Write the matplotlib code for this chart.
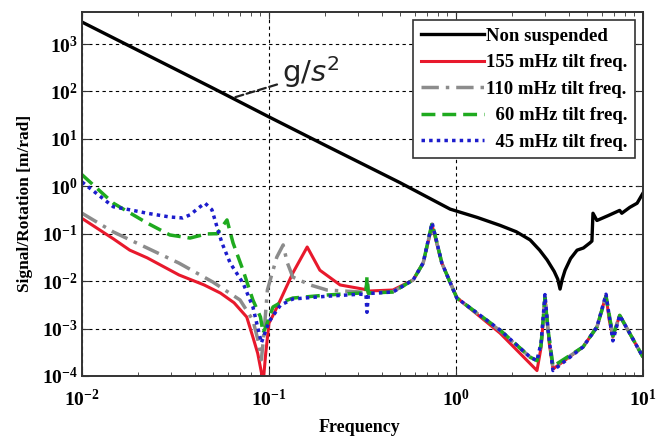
import math
import matplotlib
matplotlib.use('Agg')
import matplotlib.pyplot as plt
from matplotlib.ticker import FuncFormatter, LogLocator, NullLocator

plt.rcParams['font.family'] = ['Liberation Serif', 'DejaVu Serif']
plt.rcParams['mathtext.fontset'] = 'custom'
plt.rcParams['mathtext.rm'] = 'Liberation Serif:bold'
plt.rcParams['mathtext.bf'] = 'Liberation Serif:bold'
plt.rcParams['mathtext.it'] = 'Liberation Serif:italic:bold'

# Non suspended
f_black = [0.01, 0.02, 0.05, 0.1, 0.2, 0.5, 0.93, 1.3, 1.72, 2.1, 2.49, 2.8, 3.07,
           3.35, 3.5, 3.6, 3.7, 3.83, 4.1, 4.44, 4.8, 5.2, 5.33, 5.4, 5.67, 6.5,
           7.5, 7.7, 8.5, 9.3, 10]
v_black = [2900, 730, 118, 29, 7.3, 1.2, 0.33, 0.22, 0.15, 0.11, 0.074, 0.045, 0.028,
           0.016, 0.011, 0.0068, 0.011, 0.017, 0.03, 0.045, 0.05, 0.064, 0.07, 0.27, 0.19,
           0.24, 0.31, 0.27, 0.36, 0.44, 0.72]

# 155 mHz
f_red = [0.01, 0.0147, 0.018, 0.0223, 0.033, 0.045, 0.055, 0.065, 0.076, 0.082, 0.087,
         0.091, 0.093, 0.096, 0.1, 0.107, 0.115, 0.134, 0.16, 0.187, 0.24, 0.318, 0.327,
         0.332, 0.337, 0.345, 0.46, 0.59, 0.667, 0.745, 0.84, 1.01, 1.72, 2.71, 2.85,
         2.99, 3.15, 3.3, 4.78, 5.67, 6.34, 6.6, 6.9, 7.5, 10]
v_red = [0.21, 0.078, 0.045, 0.031, 0.0135, 0.0083, 0.0056, 0.0035, 0.00175, 0.00066,
         0.0003, 0.00012, 0.00007, 0.0003, 0.0013, 0.0022, 0.004, 0.0148, 0.0525, 0.017,
         0.0083, 0.0068, 0.0066, 0.0078, 0.006, 0.0062, 0.0065, 0.0106, 0.024, 0.15,
         0.024, 0.0045, 0.0008, 0.00013, 0.0004, 0.0046, 0.0005, 0.00014, 0.00041,
         0.00108, 0.005, 0.0015, 0.00066, 0.0019, 0.00025]

# 110 mHz
f_gray = [0.01, 0.0147, 0.0223, 0.033, 0.05, 0.07, 0.082, 0.088, 0.091, 0.094, 0.098,
          0.11, 0.119, 0.125, 0.134, 0.166, 0.204, 0.307, 0.33, 0.334, 0.34, 0.46, 0.59,
          0.667, 0.745, 0.84, 1.01, 1.72, 2.49, 2.71, 2.85, 2.99, 3.1, 3.3, 4.78, 5.67,
          6.34, 6.9, 7.5, 10]
v_gray = [0.27, 0.109, 0.05, 0.024, 0.0096, 0.004, 0.0015, 0.0005, 0.00022, 0.0008,
          0.0065, 0.032, 0.058, 0.025, 0.0122, 0.0083, 0.0065, 0.0059, 0.0058, 0.011,
          0.0056, 0.006, 0.0106, 0.024, 0.16, 0.024, 0.0044, 0.0009, 0.00025, 0.00021,
          0.00045, 0.0045, 0.001, 0.00015, 0.00041, 0.00108, 0.0048, 0.0007, 0.0019,
          0.00025]

# 60 mHz
f_green = [0.01, 0.0147, 0.0223, 0.0295, 0.0378, 0.042, 0.0466, 0.0527, 0.0596, 0.0642,
           0.0726, 0.082, 0.09, 0.093, 0.097, 0.105, 0.115, 0.134, 0.204, 0.307, 0.33,
           0.334, 0.34, 0.345, 0.46, 0.59, 0.667, 0.745, 0.84, 1.01, 1.72, 2.49, 2.71,
           2.85, 2.99, 3.1, 3.3, 4.78, 5.67, 6.34, 6.9, 7.5, 10]
v_green = [1.75, 0.44, 0.168, 0.094, 0.081, 0.09, 0.099, 0.1, 0.195, 0.064, 0.017, 0.004,
           0.00175, 0.0008, 0.0012, 0.00285, 0.0035, 0.0044, 0.0051, 0.0056, 0.0055,
           0.0122, 0.0055, 0.0056, 0.0059, 0.0106, 0.024, 0.168, 0.024, 0.0044, 0.00093,
           0.00025, 0.00021, 0.00045, 0.0045, 0.001, 0.00016, 0.00041, 0.00108, 0.0048,
           0.0007, 0.0019, 0.00025]

# 45 mHz
f_blue = [0.01, 0.0147, 0.018, 0.0223, 0.0295, 0.0346, 0.0378, 0.0428, 0.0455, 0.0495,
          0.0527, 0.056, 0.062, 0.0726, 0.082, 0.091, 0.095, 0.1, 0.115, 0.134, 0.204,
          0.307, 0.33, 0.334, 0.34, 0.345, 0.46, 0.59, 0.667, 0.745, 0.84, 1.01, 1.72,
          2.49, 2.71, 2.85, 2.99, 3.1, 3.3, 4.78, 5.67, 6.34, 6.9, 7.5, 10]
v_blue = [1.23, 0.37, 0.32, 0.27, 0.225, 0.215, 0.25, 0.37, 0.44, 0.32, 0.139, 0.064,
          0.024, 0.0091, 0.00285, 0.0005, 0.0008, 0.0014, 0.0031, 0.0042, 0.0048, 0.0053,
          0.0052, 0.0022, 0.0053, 0.0055, 0.0059, 0.0106, 0.024, 0.17, 0.024, 0.0044,
          0.00093, 0.00025, 0.00021, 0.0005, 0.0052, 0.001, 0.00013, 0.00041, 0.00108,
          0.0053, 0.00055, 0.0019, 0.00025]

labels = ['Non suspended', '155 mHz tilt freq.', '110 mHz tilt freq.',
          '  60 mHz tilt freq.', '  45 mHz tilt freq.']

fig = plt.figure(figsize=(6.68, 4.38), dpi=100)
ax = fig.add_axes([0.1228, 0.1416, 0.8398, 0.831])

ax.loglog(f_black, v_black, color='black', lw=2.4, label=labels[0])
ax.loglog(f_red, v_red, color='#e8192c', lw=2.2, label=labels[1])
ax.loglog(f_gray, v_gray, color='#8c8c8c', lw=2.5, ls=(0, (5, 2, 1, 2)), label=labels[2])
ax.loglog(f_green, v_green, color='#1faa1f', lw=2.5, ls=(0, (4, 2)), label=labels[3])
ax.loglog(f_blue, v_blue, color='#1c1ccc', lw=2.5, ls=(0, (1, 1.2)), label=labels[4])

ax.set_xlim(1e-2, 1e1)
ax.set_ylim(1e-4, 10 ** 3.675)

fmt = FuncFormatter(lambda v, p: r'$\mathbf{10^{%d}}$' % round(math.log10(v)))
ax.xaxis.set_major_formatter(fmt)
ax.yaxis.set_major_formatter(fmt)
ax.xaxis.set_minor_locator(LogLocator(base=10, subs=range(2, 10)))
ax.yaxis.set_major_locator(LogLocator(base=10, numticks=20))
ax.yaxis.set_minor_locator(NullLocator())
ax.tick_params(which='both', direction='in', top=True, right=True, labelsize=14,
               color='#333333')
ax.tick_params(which='major', length=5)
ax.tick_params(which='minor', length=3)
ax.tick_params(axis='x', pad=9)
ax.tick_params(axis='y', pad=3)

ax.grid(True, which='major', color='black', ls=(0, (3, 3)), lw=0.8)
for s in ax.spines.values():
    s.set_color('#333333')
    s.set_linewidth(1.4)

ax.set_xlabel('Frequency', fontsize=13, fontweight='bold')
ax.xaxis.set_label_coords(0.495, -0.118)
ax.set_ylabel('Signal/Rotation [m/rad]', fontsize=12.5, fontweight='bold')
ax.yaxis.set_label_coords(-0.088, 0.473)

ax.annotate(r'g/$s^2$', xy=(0.064, 73), xytext=(0.118, 158),
            fontsize=21, family='DejaVu Sans', fontweight='normal',
            math_fontfamily='dejavusans',
            color='#222222', va='baseline', ha='left',
            arrowprops=dict(arrowstyle='-', ls='--', lw=1.6, color='#222222',
                            shrinkA=2, shrinkB=0, relpos=(0, 0.2)))

leg = ax.legend(loc='upper right', bbox_to_anchor=(0.986, 0.978),
                prop={'size': 13.5, 'weight': 'bold'}, borderaxespad=0,
                handlelength=3.4, labelspacing=0.5, handletextpad=0.1,
                borderpad=0.4, fancybox=False, framealpha=1, edgecolor='#333333')
leg.get_frame().set_linewidth(1.2)

fig.savefig('out.png', dpi=100)
